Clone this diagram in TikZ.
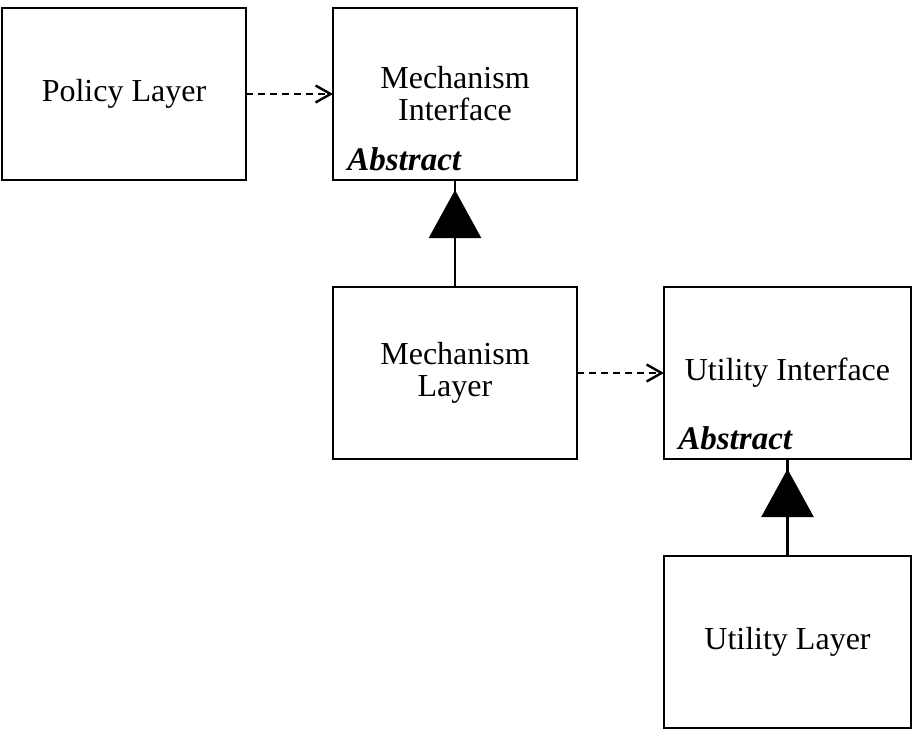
\documentclass[tikz,border=0pt]{standalone}
\usepackage{fontspec}
\setmainfont{Liberation Serif}
\usetikzlibrary{positioning,arrows.meta}
\begin{document}
\begin{tikzpicture}[node distance=43.5pt]
\tikzstyle{layer}=[rectangle,draw,line width=1.2pt,outer sep=0pt,minimum width=122pt,minimum height=86pt,align=center,font=\fontsize{16}{16}\selectfont]
  \tikzstyle{abstr}=[anchor=base west,inner sep=0pt,font=\fontsize{16.5}{16.5}\selectfont\bfseries\itshape]
  \tikzstyle{uses}=[line width=1.2pt,dash pattern=on 3.5pt off 2.5pt,-{Straight Barb[length=7.5pt,width=8.5pt]}]
  \tikzstyle{inherit}=[line width=1.2pt,-{Triangle[length=24pt,width=26pt]},shorten >=5pt]
  \useasboundingbox (0,0) rectangle (459pt,-365pt);

  \node[layer] (pl) at (62pt,-47pt) {Policy Layer};
  \node[layer,right=of pl] (mi) {Mechanism\\Interface};
  \node[layer,below=53.5pt of mi] (ml) {Mechanism\\Layer};
  \node[layer,right=of ml,minimum width=123.5pt] (ui) {Utility Interface};
  \node[layer,below=48.5pt of ui,minimum width=123.5pt] (ul) {Utility Layer};

  \node[abstr] (mi-abs) at ([xshift=7pt,yshift=5pt]mi.south west) {Abstract};
  \node[abstr] (ui-abs) at ([xshift=7pt,yshift=5pt]ui.south west) {Abstract};

  % dependencies
  \draw[uses] (pl) -- (mi);
  \draw[uses] (ml) -- (ui);
  % inheritance
  \draw[line width=1.2pt] (ml) -- (mi);
  \draw[inherit] (ml) -- (mi);
  \draw[line width=1.2pt] (ul) -- (ui);
  \draw[inherit] (ul) -- (ui);
\end{tikzpicture}
\end{document}
